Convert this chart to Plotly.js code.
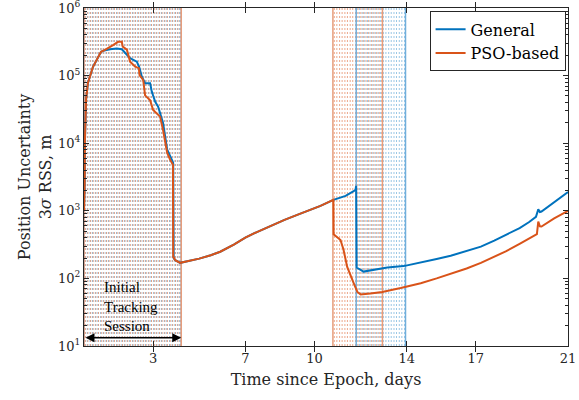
<!DOCTYPE html>
<html>
<head>
<meta charset="utf-8">
<script src="https://cdn.plot.ly/plotly-3.0.1.min.js"></script>
<style>html,body{margin:0;padding:0;background:#fff;}#chart{width:579px;height:400px;}</style>
</head>
<body>
<div id="chart"></div>
<script>
// ---------- data ----------
const daysGeneral = [0, 0.03, 0.04, 0.09, 0.17, 0.39, 0.74, 0.83, 1.13, 1.42, 1.64, 1.78, 2.0, 2.29, 2.39, 2.51, 2.65, 2.87, 2.94, 3.09, 3.22, 3.43, 3.61, 3.78, 3.87, 3.89, 3.96, 4.17, 4.4, 4.61, 5.0, 5.5, 5.91, 6.5, 7.0, 7.5, 8.09, 8.7, 9.39, 10.26, 10.82, 11.35, 11.70, 11.78, 11.81, 11.83, 12.13, 12.35, 13.16, 13.87, 14.61, 15.3, 15.91, 16.6, 17.22, 17.8, 18.3, 18.9, 19.3, 19.61, 19.71, 19.78, 19.85, 20.4, 21.0];
const uncGeneral  = [1000, 2600, 11000, 44000, 78000, 135000, 225000, 232000, 245000, 252000, 245000, 215000, 181000, 161000, 136000, 96000, 77000, 77000, 58000, 41000, 34500, 20000, 8000, 6000, 5100, 200, 186, 170, 176, 183, 196, 220, 248, 315, 400, 485, 600, 735, 910, 1180, 1450, 1660, 1950, 2050, 2340, 145, 126, 130, 145, 152, 170, 193, 216, 251, 295, 363, 437, 556, 676, 813, 1050, 960, 975, 1350, 1900];

const daysPSO = [0, 0.03, 0.04, 0.09, 0.17, 0.39, 0.74, 0.91, 1.26, 1.48, 1.64, 1.68, 1.86, 2.0, 2.22, 2.38, 2.41, 2.57, 2.65, 2.87, 3.0, 3.30, 3.43, 3.52, 3.61, 3.74, 3.81, 3.86, 3.87, 3.96, 4.17, 4.4, 4.61, 5.0, 5.5, 5.91, 6.5, 7.0, 7.5, 8.09, 8.7, 9.39, 10.26, 10.82, 10.83, 11.13, 11.26, 11.42, 11.57, 11.70, 11.86, 12.0, 12.43, 12.94, 13.74, 14.61, 15.3, 15.91, 16.6, 17.22, 17.8, 18.3, 18.9, 19.3, 19.53, 19.65, 19.71, 19.78, 19.85, 20.4, 21.0];
const uncPSO  = [1000, 2600, 11000, 44000, 78000, 135000, 225000, 240000, 283000, 316000, 316000, 268000, 242000, 161000, 136000, 129000, 102000, 86000, 51000, 43000, 31000, 24700, 15700, 11200, 7200, 5700, 5100, 4800, 210, 186, 170, 176, 183, 196, 220, 248, 315, 400, 485, 600, 735, 910, 1180, 1450, 450, 370, 265, 148, 106, 85, 63, 58, 60, 63, 72, 85, 100, 117, 140, 170, 209, 251, 324, 385, 427, 450, 690, 590, 585, 770, 1000];

// measurement times (tracking passes), days
const passesGeneral = [0.03, 0.14, 0.26, 0.37, 0.49, 0.60, 0.72, 0.83, 0.95, 1.06, 1.18, 1.29, 1.41, 1.52, 1.64, 1.75, 1.87, 1.98, 2.10, 2.21, 2.33, 2.44, 2.56, 2.67, 2.79, 2.90, 3.02, 3.13, 3.25, 3.36, 3.48, 3.59, 3.71, 3.82, 3.94, 4.05, 4.15,
  11.84, 11.95, 12.07, 12.18, 12.30, 12.41, 12.53, 12.64, 12.76, 12.87, 12.99, 13.10, 13.22, 13.33, 13.45, 13.56, 13.68, 13.79, 13.91];
const passesPSO = [0.06, 0.17, 0.29, 0.40, 0.52, 0.63, 0.75, 0.86, 0.98, 1.09, 1.21, 1.32, 1.44, 1.55, 1.67, 1.78, 1.90, 2.01, 2.13, 2.24, 2.36, 2.47, 2.59, 2.70, 2.82, 2.93, 3.05, 3.16, 3.28, 3.39, 3.51, 3.62, 3.74, 3.85, 3.97, 4.08, 4.18,
  10.86, 10.97, 11.09, 11.20, 11.32, 11.43, 11.55, 11.66, 11.78, 11.89, 12.01, 12.12, 12.24, 12.35, 12.47, 12.58, 12.70, 12.81, 12.92];

// tracking session boundaries, days
const boundsGeneral = [0, 4.22, 11.81, 13.95];
const boundsPSO = [0, 4.22, 10.80, 12.95];

const xTicks = [3, 7, 10, 14, 17, 21];
const yTicks = [10, 100, 1000, 10000, 100000, 1000000];
const yTickText = ['10<sup>1</sup>', '10<sup>2</sup>', '10<sup>3</sup>', '10<sup>4</sup>', '10<sup>5</sup>', '10<sup>6</sup>'];
const yMinorTicks = [20, 30, 40, 50, 60, 70, 80, 90,
  200, 300, 400, 500, 600, 700, 800, 900,
  2000, 3000, 4000, 5000, 6000, 7000, 8000, 9000,
  20000, 30000, 40000, 50000, 60000, 70000, 80000, 90000,
  200000, 300000, 400000, 500000, 600000, 700000, 800000, 900000];
const yLimits = [10, 1e6];
const xLimits = [0, 21];
const sessionLabel = 'Initial<br>Tracking<br>Session';
const sessionLabelPos = [2.05, 39];  // day, m
const sessionArrowY = 13.2;          // m
const sessionArrowX = [0, 4.22];     // days

// ---------- build ----------
const blue = '#0072BD', orange = '#D95319';
function vlines(times) {
  const x = [], y = [];
  times.forEach(t => { x.push(t, t, null); y.push(yLimits[0], yLimits[1], null); });
  return {x, y};
}
const vG = vlines(passesGeneral), vP = vlines(passesPSO);
const bG = vlines(boundsGeneral), bP = vlines(boundsPSO);

const traces = [
  {x: vG.x, y: vG.y, mode: 'lines', line: {color: 'rgba(0,114,189,0.4)', width: 1, dash: '2px,2px'}, showlegend: false, hoverinfo: 'skip'},
  {x: vP.x, y: vP.y, mode: 'lines', line: {color: 'rgba(217,83,25,0.5)', width: 1, dash: '2px,2px'}, showlegend: false, hoverinfo: 'skip'},
  {x: bG.x, y: bG.y, mode: 'lines', line: {color: '#6FAEDB', width: 1.5}, showlegend: false, hoverinfo: 'skip'},
  {x: bP.x, y: bP.y, mode: 'lines', line: {color: '#E69D7C', width: 1.5}, showlegend: false, hoverinfo: 'skip'},
  {x: daysGeneral, y: uncGeneral, mode: 'lines', name: 'General', line: {color: blue, width: 2}},
  {x: daysPSO, y: uncPSO, mode: 'lines', name: 'PSO-based', line: {color: orange, width: 2}},
  // carrier for the minor-tick axis (no visible mark)
  {x: [null], y: [null], yaxis: 'y2', mode: 'lines', showlegend: false, hoverinfo: 'skip'}
];

const font = 'DejaVu Serif, serif';
const layout = {
  width: 579, height: 400,
  margin: {l: 84, r: 11, t: 8, b: 54},
  paper_bgcolor: '#fff', plot_bgcolor: '#fff',
  font: {family: font, color: '#262626', size: 13},
  showlegend: true,
  xaxis: {
    range: xLimits, tickvals: xTicks, ticks: 'inside', ticklen: 5, tickcolor: '#262626',
    showline: true, linecolor: '#262626', linewidth: 1, mirror: 'allticks',
    showgrid: false, zeroline: false, tickfont: {size: 13, family: font},
    title: {text: 'Time since Epoch, days', font: {size: 16, family: font}, standoff: 9}
  },
  yaxis: {
    type: 'log', range: [Math.log10(yLimits[0]), Math.log10(yLimits[1])],
    tickvals: yTicks, ticktext: yTickText, ticks: 'inside', ticklen: 5, tickcolor: '#262626',
    ticklabeloverflow: 'allow',
    showline: true, linecolor: '#262626', linewidth: 1, mirror: 'allticks',
    showgrid: false, zeroline: false, tickfont: {size: 13, family: font},
    title: {text: 'Position Uncertainty<br>3<i>σ</i> RSS, m', font: {size: 16, family: font}, standoff: 2}
  },
  yaxis2: {
    type: 'log', range: [Math.log10(yLimits[0]), Math.log10(yLimits[1])], overlaying: 'y', side: 'left',
    tickvals: yMinorTicks, showticklabels: false, ticks: 'inside', ticklen: 3, tickcolor: '#262626',
    showline: false, mirror: 'ticks', showgrid: false, zeroline: false
  },
  legend: {
    x: 0.995, xanchor: 'right', y: 0.99, yanchor: 'top',
    bgcolor: '#fff', bordercolor: '#262626', borderwidth: 1,
    font: {size: 16, family: font, color: '#000'}
  },
  annotations: [
    {x: sessionLabelPos[0], y: Math.log10(sessionLabelPos[1]), xref: 'x', yref: 'y', text: sessionLabel,
     showarrow: false, align: 'left', font: {size: 15, family: 'Liberation Serif, serif', color: '#000'}},
    {x: sessionArrowX[1], y: Math.log10(sessionArrowY), ax: sessionArrowX[0], ay: Math.log10(sessionArrowY),
     xref: 'x', yref: 'y', axref: 'x', ayref: 'y', text: '', showarrow: true,
     arrowhead: 2, startarrowhead: 2, arrowside: 'end+start', arrowsize: 1.2, startarrowsize: 1.2, arrowwidth: 1.5, arrowcolor: '#000'}
  ]
};
Plotly.newPlot('chart', traces, layout, {staticPlot: true, displayModeBar: false});
</script>
</body>
</html>
